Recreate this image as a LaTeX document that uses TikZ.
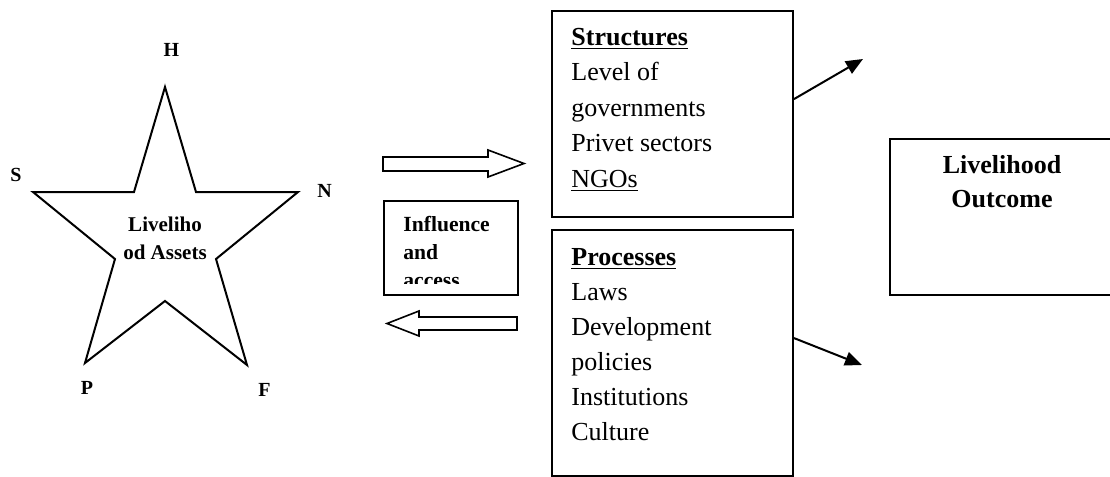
\documentclass[tikz,border=0pt]{standalone}
\usepackage{fontspec}
\setmainfont{Liberation Serif}
\usetikzlibrary{arrows.meta}

\begin{document}
\begin{tikzpicture}[x=0.5pt,y=-0.5pt,
	box/.style={draw,line width=1pt,rectangle,inner sep=0pt,anchor=north west},
	lbl/.style={font=\fontsize{10}{12}\selectfont\bfseries,inner sep=0pt,anchor=base},
	txt/.style={font=\fontsize{13}{15}\selectfont,inner sep=0pt,anchor=base west},
	blk/.style={draw,line width=0.8pt,line join=miter},
	conn/.style={line width=1pt,-{Triangle[length=8.5pt,width=7pt]}}]
	\useasboundingbox (0,0) rectangle (1110,477);
	\clip (0,0) rectangle (1110,477);
	\draw[line width=1pt] (165,87) coordinate (h) -- (196,192) -- (298,192) coordinate (n)
		-- (216,259) -- (247,365) coordinate (f) -- (165,301) -- (85,363) coordinate (p)
		-- (115,259) -- (33,192) coordinate (s) -- (134,192) -- cycle;
	\node[lbl] (lh) at (171.5,56) {H};
	\node[lbl] (ls) at (16,181) {S};
	\node[lbl] (ln) at (324.5,197) {N};
	\node[lbl] (lp) at (87,394) {P};
	\node[lbl] (lf) at (264.5,396) {F};
	\node[lbl,font=\fontsize{10.5}{14}\selectfont\bfseries] (as1) at (165,231) {Liveliho};
	\node[lbl,font=\fontsize{10.5}{14}\selectfont\bfseries] (as2) at (165,259) {od Assets};
	\draw[blk] (383,157) -- (488,157) -- (488,150) -- (524,163.5) -- (488,177) -- (488,171) -- (383,171) -- cycle;
	\draw[blk] (517,317) -- (419,317) -- (419,311) -- (387,323.5) -- (419,336) -- (419,330) -- (517,330) -- cycle;
	\node[box,minimum width=67pt,minimum height=47pt] (infl) at (383,200) {};
	\begin{scope}
		\clip (383,200) rectangle (517,283);
		\foreach \t [count=\i from 0] in {Influence,and,access}
			\node[txt,font=\fontsize{10.8}{13}\selectfont\bfseries] (in\i) at (403,231+28*\i) {\t};
	\end{scope}
	\node[box,minimum width=120.5pt,minimum height=103pt] (struct) at (551,10) {};
	\foreach \t [count=\i from 0] in {\underline{\textbf{Structures}},Level of,governments,Privet sectors,\underline{NGOs}}
		\node[txt] (st\i) at (571,45+35.5*\i) {\t};
	\node[box,minimum width=120.5pt,minimum height=123pt] (proc) at (551,229) {};
	\foreach \t [count=\i from 0] in {\underline{\textbf{Processes}},Laws,Development,policies,Institutions,Culture}
		\node[txt] (pr\i) at (571,265+35*\i) {\t};
	\node[box,minimum width=115.5pt,minimum height=78pt] (outc) at (889,138) {};
	\node[lbl,font=\fontsize{13}{15}\selectfont\bfseries] (out1) at (1002,173) {Livelihood};
	\node[lbl,font=\fontsize{13}{15}\selectfont\bfseries] (out2) at (1002,207) {Outcome};
	\coordinate (upE) at (863,59);
	\coordinate (dnE) at (862,365);
	\draw[conn] (struct.7) -- (upE);
	\draw[conn] (proc.7) -- (dnE);
\end{tikzpicture}
\end{document}
